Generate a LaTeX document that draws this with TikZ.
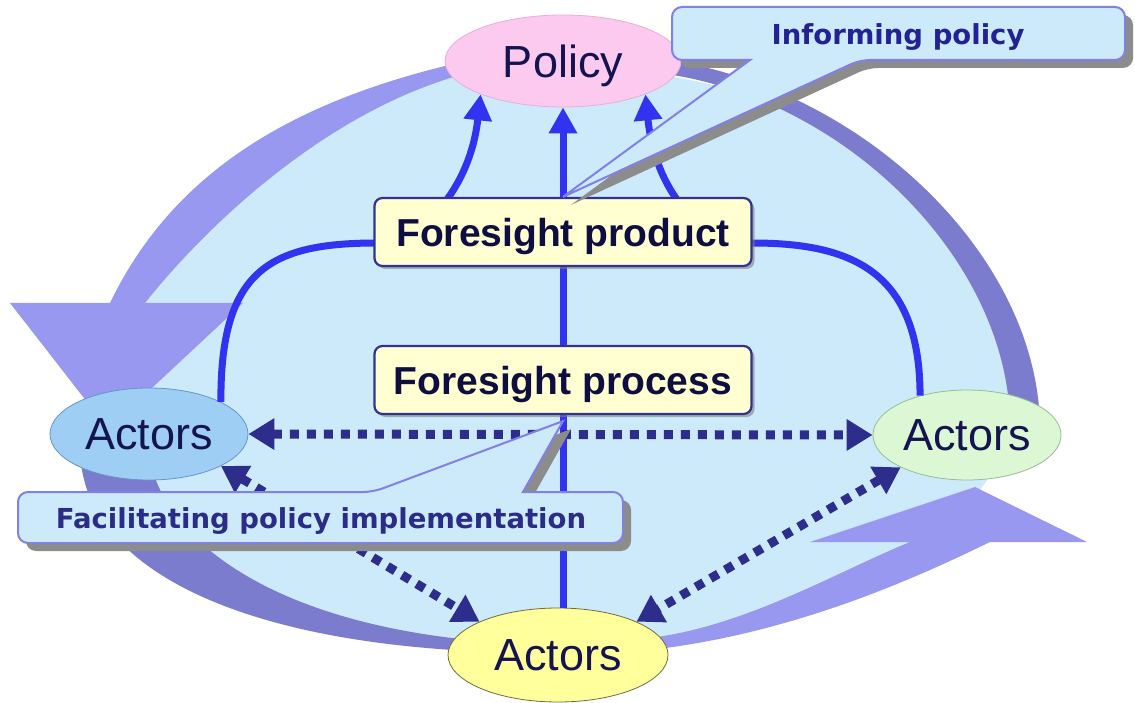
\documentclass[tikz,border=0pt]{standalone}
\usepackage{fontspec}
\setmainfont{Liberation Sans}
\newfontfamily\cfont{DejaVu Sans}
\usetikzlibrary{shapes.geometric,arrows.meta,shadows}
\definecolor{bgblue}{RGB}{205,234,250}
\definecolor{ringlight}{RGB}{152,152,240}
\definecolor{ringdark}{RGB}{124,124,206}
\definecolor{connblue}{RGB}{50,50,240}
\definecolor{dotnavy}{RGB}{45,45,140}
\definecolor{txtnavy}{RGB}{20,20,80}
\definecolor{boxtxt}{RGB}{14,14,64}
\definecolor{pinkfill}{RGB}{252,202,238}
\definecolor{pinkline}{RGB}{230,175,215}
\definecolor{actblue}{RGB}{158,206,243}
\definecolor{actblueline}{RGB}{100,150,200}
\definecolor{actgreen}{RGB}{220,247,212}
\definecolor{actgreenline}{RGB}{150,190,150}
\definecolor{actyellow}{RGB}{255,255,155}
\definecolor{actyellowline}{RGB}{110,110,60}
\definecolor{boxfill}{RGB}{255,255,210}
\definecolor{boxline}{RGB}{50,50,150}
\definecolor{callline}{RGB}{128,128,232}
\definecolor{calltext}{RGB}{34,34,150}
\definecolor{calltextb}{RGB}{43,43,136}
\definecolor{shadowgray}{RGB}{140,140,140}
\begin{document}
\begin{tikzpicture}[x=1pt,y=-1pt,
  actor/.style={ellipse, inner sep=0pt, text depth=0pt, font=\fontsize{45}{50}\selectfont, text=txtnavy},
  fbox/.style={rectangle, rounded corners=8pt, fill=boxfill, draw=boxline, line width=2.2pt,
    minimum width=377pt, minimum height=68pt, text depth=0pt,
    font=\fontsize{39}{44}\selectfont\bfseries, text=boxtxt,
    drop shadow={shadow xshift=3pt, shadow yshift=-3pt, fill=gray, opacity=0.6}},
  conn/.style={connblue, line width=7pt, -{Triangle[length=26pt,width=27pt]}},
  dotarrow/.style={dotnavy, line width=9pt, dash pattern=on 9pt off 8pt,
    {Triangle[length=26pt,width=30pt]}-{Triangle[length=26pt,width=30pt]}},
  callout/.style={fill=bgblue, draw=callline, line width=2pt,
    drop shadow={shadow xshift=8pt, shadow yshift=-8pt, fill=shadowgray, opacity=1}},
  calltxt/.style={font=\cfont\fontsize{27.5}{32}\selectfont\bfseries, text depth=0pt, inner sep=0pt},
]
\useasboundingbox (0,0) rectangle (1135,703);
\fill[white] (0,0) rectangle (1135,703);

% light blue interior
\fill[bgblue] (563,68) .. controls (283,68) and (100,210) .. (100,430)
  .. controls (100,560) and (260,645) .. (560,645)
  .. controls (800,645) and (960,560) .. (1015,430)
  .. controls (1030,230) and (843,68) .. (563,68) -- cycle;

% ring: top-left (light, arrowhead at left)
\fill[ringlight] (480,58) .. controls (300,96) and (175,168) .. (110,303)
  -- (10,303) -- (108,429) -- (243,303) -- (145,303)
  .. controls (207,225) and (334,103) .. (480,70) -- cycle;
% ring: bottom-left (dark)
\fill[ringdark] (80,450) .. controls (82,560) and (220,638) .. (470,651)
  -- (470,640) .. controls (270,620) and (166,540) .. (150,460) -- cycle;
% ring: bottom-right (light, arrowhead up)
\fill[ringlight] (640,651) .. controls (790,636) and (918,577) .. (990,542)
  -- (1087,542) -- (975,487) -- (810,542) -- (910,542)
  .. controls (836,572) and (740,630) .. (640,639) -- cycle;
% ring: top-right (dark)
\fill[ringdark] (650,58) .. controls (850,78) and (1040,250) .. (1040,430)
  -- (1010,430) .. controls (1012,260) and (840,91) .. (650,72) -- cycle;

% ellipse nodes
\node[actor, fill=pinkfill, draw=pinkline, line width=0.8pt, minimum width=236pt, minimum height=92pt] (policy) at (563,61) {Policy};
\node[actor, fill=actblue, draw=actblueline, line width=0.8pt, minimum width=198pt, minimum height=92pt] (actL) at (149,434) {Actors};
\node[actor, fill=actgreen, draw=actgreenline, line width=0.8pt, minimum width=188pt, minimum height=90pt] (actR) at (967,435) {Actors};
\node[actor, fill=actyellow, draw=actyellowline, line width=0.8pt, minimum width=220pt, minimum height=94pt] (actB) at (558,655) {Actors};

% solid connectors to Policy
\draw[conn] (policy.south |- actB.north) -- (policy.south);
\draw[conn] (actL.24) .. controls (220,270) and (270,243) .. (377,243) .. controls (420,243) and (470,190) .. (policy.-158);
\draw[conn] (actR.140) .. controls (920,270) and (850,243) .. (752,243) .. controls (700,243) and (655,190) .. (policy.-22);

% foresight boxes
\node[fbox] (prod) at (563,232) {Foresight product};
\node[fbox] (proc) at (563,380) {Foresight process};

% dotted two-way arrows between actors
\draw[dotarrow] (actL.east) -- (actR.west);
\draw[dotarrow] (actL.-24) -- (actB.157);
\draw[dotarrow] (actR.-154) -- (actB.23);

% callouts
\path[callout] (672,34) [rounded corners=10pt] |- (1125,7) |- (860,60) [sharp corners] -- (prod.north) -- (750,60) [rounded corners=10pt] -| (672,34) -- cycle;
\node[calltxt, text=calltext] (informtxt) at (898,34) {Informing policy};

\path[callout] (18,517) [rounded corners=10pt] |- (373,492) [sharp corners] -- ([yshift=-6pt]proc.south) -- (523,492) [rounded corners=10pt] -| (623,517) |- (18,543) -- cycle;
\node[calltxt, text=calltextb] (facilitxt) at (321,518) {Facilitating policy implementation};
\end{tikzpicture}
\end{document}
